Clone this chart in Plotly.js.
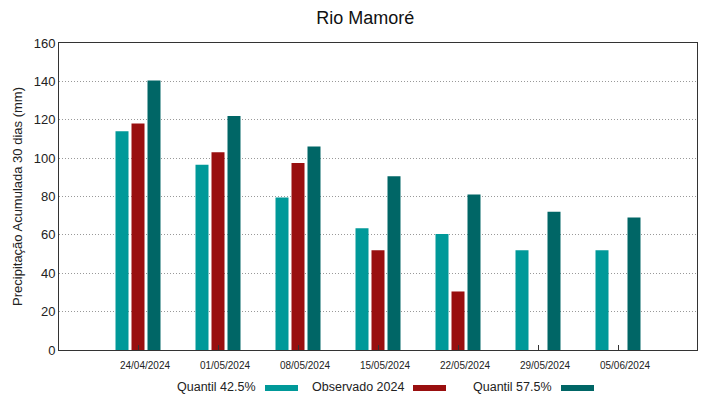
<!DOCTYPE html>
<html>
<head>
<meta charset="utf-8">
<script src="https://cdn.plot.ly/plotly-3.0.1.min.js"></script>
<style>html,body{margin:0;padding:0;background:#fff;}#chart{width:719px;height:399px;}</style>
</head>
<body>
<div id="chart"></div>
<script>
const categories = ["24/04/2024","01/05/2024","08/05/2024","15/05/2024","22/05/2024","29/05/2024","05/06/2024"];
const quantil425 = [114, 96.5, 79.5, 63.5, 60.5, 52, 52];
const observado2024 = [118, 103, 97.5, 52, 30.5, null, null];
const quantil575 = [140.5, 122, 106, 90.5, 81, 72, 69];
const seriesNames = ["Quantil 42.5%", "Observado 2024", "Quantil 57.5%"];
const seriesColors = ["#009999", "#990f0f", "#006666"];

const xIdx = categories.map((c, i) => i);
const allSeries = [quantil425, observado2024, quantil575];
const traces = allSeries.map((vals, k) => ({
  type: 'bar', x: xIdx, y: vals, name: seriesNames[k],
  marker: {color: seriesColors[k], line: {width: 0}},
  hoverinfo: 'x+y'
}));

const font = {family: 'Liberation Sans, Arial, sans-serif', color: '#222'};
const legendItems = [
  {text: seriesNames[0], tx: 258, s0: 265, s1: 298},
  {text: seriesNames[1], tx: 406, s0: 413, s1: 446},
  {text: seriesNames[2], tx: 554, s0: 561, s1: 594}
];
const W = 719, H = 399;
const annotations = legendItems.map(it => ({
  xref: 'paper', yref: 'paper', x: (it.tx - 59) / 638, y: 1 - (387 - 43) / 307,
  xanchor: 'right', yanchor: 'middle', showarrow: false, text: it.text,
  font: {family: font.family, size: 12.5, color: '#222'}
}));
const shapes = legendItems.map((it, k) => ({
  type: 'rect', xref: 'paper', yref: 'paper',
  x0: (it.s0 - 59) / 638, x1: (it.s1 - 59) / 638,
  y0: 1 - (391 - 43) / 307, y1: 1 - (385 - 43) / 307,
  fillcolor: seriesColors[k], line: {width: 0}
}));

const layout = {
  width: W, height: H,
  margin: {l: 59, r: 22, t: 43, b: 49},
  paper_bgcolor: '#fff', plot_bgcolor: '#fff',
  title: {text: 'Rio Mamoré', x: 0.508, xanchor: 'center', y: 0.955, yanchor: 'middle',
    font: {family: font.family, size: 18, color: '#111'}},
  showlegend: false,
  barmode: 'group', bargap: 0.4, bargroupgap: 0.1875,
  xaxis: {
    range: [-0.9875, 6.9875], tickmode: 'array', tickvals: xIdx, ticktext: categories,
    ticks: 'inside', ticklen: 5, tickcolor: '#333', tickwidth: 1,
    ticklabelshift: 7, ticklabelstandoff: 6,
    showgrid: false, zeroline: false, showline: true, mirror: true,
    linecolor: '#333', linewidth: 1,
    tickfont: {family: font.family, size: 10, color: '#222'}, fixedrange: true
  },
  yaxis: {
    range: [0, 160], dtick: 20, tick0: 0,
    ticks: '', showgrid: true, gridcolor: '#999999', griddash: '1px,2px', gridwidth: 1,
    zeroline: false, showline: true, mirror: true, linecolor: '#333', linewidth: 1,
    tickfont: {family: font.family, size: 13, color: '#222'},
    title: {text: 'Precipitação Acumulada 30 dias (mm)', standoff: 8,
      font: {family: font.family, size: 13, color: '#222'}},
    fixedrange: true
  },
  annotations: annotations,
  shapes: shapes
};

Plotly.newPlot('chart', traces, layout, {displayModeBar: false, staticPlot: true});
</script>
</body>
</html>
